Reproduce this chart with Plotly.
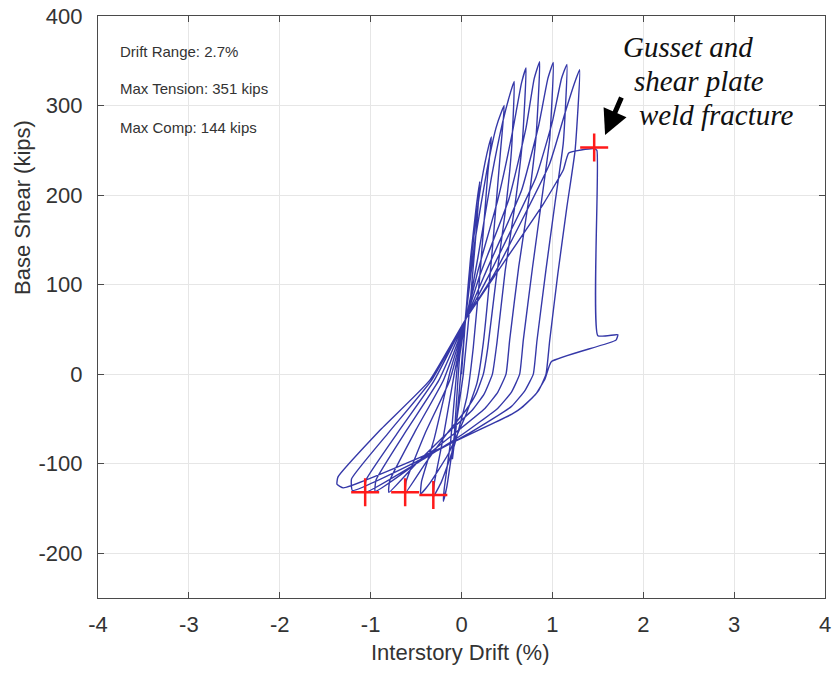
import plotly.graph_objects as go

# ---- data (interstory drift %, base shear kips) ----
drift_c1 = [0.00, 0.05, 0.10, 0.07, 0.00, -0.06, -0.10, -0.08, -0.02]
shear_c1 = [0, 70, 130, 90, 10, -60, -95, -70, 20]

drift_c2 = [0.04, 0.10, 0.16, 0.20, 0.17, 0.10, 0.02, -0.08, -0.16, -0.20, -0.19, -0.12, -0.04]
shear_c2 = [60, 130, 185, 215, 170, 85, 0, -70, -125, -142, -128, -75, 15]

drift_c3 = [0.04, 0.12, 0.22, 0.30, 0.33, 0.29, 0.21, 0.13, 0.06, -0.08, -0.22, -0.31, -0.30, -0.20, -0.08]
shear_c3 = [60, 140, 215, 255, 265, 225, 120, 30, -25, -80, -120, -137, -122, -70, 0]

drift_c4 = [0.04, 0.15, 0.28, 0.38, 0.44, 0.47, 0.43, 0.34, 0.24, 0.17, 0.05, -0.15, -0.35, -0.45, -0.44, -0.30, -0.12]
shear_c4 = [60, 150, 228, 275, 293, 300, 250, 140, 35, -10, -45, -90, -122, -134, -120, -72, 5]

drift_c5 = [0.05, 0.18, 0.33, 0.45, 0.54, 0.58, 0.55, 0.48, 0.38, 0.29, 0.24, 0.16, 0.05, -0.15, -0.40, -0.62, -0.61, -0.40, -0.13]
shear_c5 = [62, 130, 220, 280, 315, 327, 250, 180, 105, 30, 0, -22, -40, -65, -100, -133, -120, -66, -7]

drift_c6 = [0.05, 0.18, 0.40, 0.56, 0.66, 0.71, 0.67, 0.59, 0.48, 0.39, 0.34, 0.25, 0.12, -0.20, -0.50, -0.80, -0.79, -0.50, -0.20]
shear_c6 = [62, 115, 195, 270, 325, 342, 260, 190, 115, 35, 0, -22, -40, -70, -100, -132, -119, -62, -7]

drift_c7 = [0.05, 0.20, 0.52, 0.71, 0.80, 0.86, 0.82, 0.74, 0.63, 0.53, 0.49, 0.40, 0.26, -0.10, -0.50, -0.95, -0.94, -0.60, -0.25]
shear_c7 = [62, 110, 195, 275, 330, 349, 265, 195, 120, 38, 0, -20, -38, -68, -100, -131, -118, -62, -7]

drift_c8 = [0.05, 0.25, 0.66, 0.85, 0.95, 1.01, 0.97, 0.88, 0.78, 0.68, 0.64, 0.55, 0.40, 0.00, -0.50, -1.06, -1.05, -0.70, -0.30]
shear_c8 = [62, 110, 205, 278, 330, 348, 262, 193, 118, 38, 0, -20, -38, -68, -100, -132, -118, -65, -7]

drift_c9 = [0.05, 0.30, 0.82, 1.00, 1.10, 1.16, 1.12, 1.03, 0.93, 0.83, 0.79, 0.70, 0.55, 0.10, -0.50, -1.20, -1.21, -0.80, -0.33]
shear_c9 = [62, 110, 220, 282, 330, 346, 258, 192, 117, 37, 0, -18, -36, -65, -98, -130, -117, -65, -7]

drift_c10 = [0.05, 0.35, 0.97, 1.14, 1.24, 1.30, 1.25, 1.16, 1.06, 0.97, 0.93, 0.85, 0.72, 0.60, 0.20, -0.50, -1.30, -1.37, -1.36, -0.90, -0.35]
shear_c10 = [62, 110, 235, 292, 324, 340, 250, 187, 112, 37, 0, -18, -32, -42, -62, -95, -127, -123, -115, -63, -7]

drift_c11 = [0.05, 0.40, 0.90, 1.12, 1.18, 1.45, 1.49, 1.50, 1.72, 1.70, 0.99, 0.92, 0.82, 0.68, 0.55, 0.20]
shear_c11 = [62, 115, 190, 228, 247, 252, 250, 43, 44, 38, 14, -5, -22, -36, -45, -62]

event_drift = [1.46, -1.06, -0.62, -0.31]
event_shear = [253, -132, -132, -135]

x_ticks = [-4, -3, -2, -1, 0, 1, 2, 3, 4]
x_tick_text = ["-4", "-3", "-2", "-1", "0", "1", "2", "3", "4"]
y_ticks = [-200, -100, 0, 100, 200, 300, 400]
y_tick_text = ["-200", "-100", "0", "100", "200", "300", "400"]

info_lines = ["Drift Range: 2.7%", "Max Tension: 351 kips", "Max Comp: 144 kips"]
callout_lines = ["Gusset and", "shear plate", "weld fracture"]

cycles_d = [drift_c1, drift_c2, drift_c3, drift_c4, drift_c5, drift_c6,
            drift_c7, drift_c8, drift_c9, drift_c10, drift_c11]
cycles_s = [shear_c1, shear_c2, shear_c3, shear_c4, shear_c5, shear_c6,
            shear_c7, shear_c8, shear_c9, shear_c10, shear_c11]
all_d, all_s = [], []
for d, s in zip(cycles_d, cycles_s):
    all_d += d
    all_s += s

SANS = "Liberation Sans, Arial, sans-serif"
SERIF = "Liberation Serif, Times New Roman, serif"

fig = go.Figure()
fig.add_trace(go.Scatter(x=all_d, y=all_s, mode="lines",
                         line=dict(color="#3538a8", width=1.4, shape="spline", smoothing=0.4),
                         showlegend=False, hoverinfo="skip"))
fig.add_trace(go.Scatter(x=event_drift, y=event_shear, mode="markers",
                         marker=dict(symbol="cross-thin", size=20,
                                     line=dict(color="#ff1a1a", width=2.5)),
                         showlegend=False, hoverinfo="skip"))

axis_common = dict(showline=True, linecolor="#4a4a4a", linewidth=1.3,
                   mirror="ticks", ticks="inside", ticklen=6, tickwidth=1,
                   tickcolor="#4a4a4a", showgrid=True, gridcolor="#e6e6e6",
                   gridwidth=1, zeroline=False, automargin=False,
                   ticklabeloverflow="allow",
                   tickfont=dict(family=SANS, size=22, color="#333333"))

fig.update_xaxes(range=[-4, 4], tickvals=x_ticks, ticktext=x_tick_text,
                 ticklabelstandoff=6, **axis_common)
fig.update_yaxes(range=[-250, 400], tickvals=y_ticks, ticktext=y_tick_text,
                 ticklabelstandoff=10, **axis_common)

# plot area in window pixels: x 98..825, y 16..598 (body margin removed below)
FIG_W, FIG_H = 834, 673
L, R, T, B = 98, 825, 16, 598
W, H = R - L, B - T
def px(xp):
    return (xp - L) / W
def py(yp):
    return (B - yp) / H

ann = []
for txt, base in zip(info_lines, [57, 94, 133]):
    ann.append(dict(text=txt, xref="paper", yref="paper", x=px(118), y=py(base - 5.5),
                    xanchor="left", yanchor="middle", showarrow=False,
                    font=dict(family=SANS, size=15, color="#333333")))
for txt, left, base in zip(callout_lines, [621, 632, 637], [57, 91, 125]):
    ann.append(dict(text="<i>" + txt + "</i>", xref="paper", yref="paper", x=px(left),
                    y=py(base - 10), xanchor="left", yanchor="middle", showarrow=False,
                    font=dict(family=SERIF, size=29, color="#111111")))
# arrow
ann.append(dict(text="", xref="x", yref="y", x=1.58, y=267, ax=17, ay=-39,
                showarrow=True, arrowhead=2, arrowsize=1, arrowwidth=5,
                arrowcolor="#000000"))
# axis titles
ann.append(dict(text="Base Shear (kips)", xref="paper", yref="paper", x=px(22), y=py(208),
                xanchor="center", yanchor="middle", textangle=-90, showarrow=False,
                font=dict(family=SANS, size=22, color="#333333")))
ann.append(dict(text="Interstory Drift (%)", xref="paper", yref="paper", x=px(460), y=py(652),
                xanchor="center", yanchor="middle", showarrow=False,
                font=dict(family=SANS, size=22, color="#333333")))

fig.update_layout(width=FIG_W, height=FIG_H,
                  margin=dict(l=L, r=FIG_W - R, t=T, b=FIG_H - B),
                  paper_bgcolor="white", plot_bgcolor="white", annotations=ann)

fig.write_html("out.html", config={"displayModeBar": False},
               post_script="document.body.style.margin='0';document.body.style.overflow='hidden';")
